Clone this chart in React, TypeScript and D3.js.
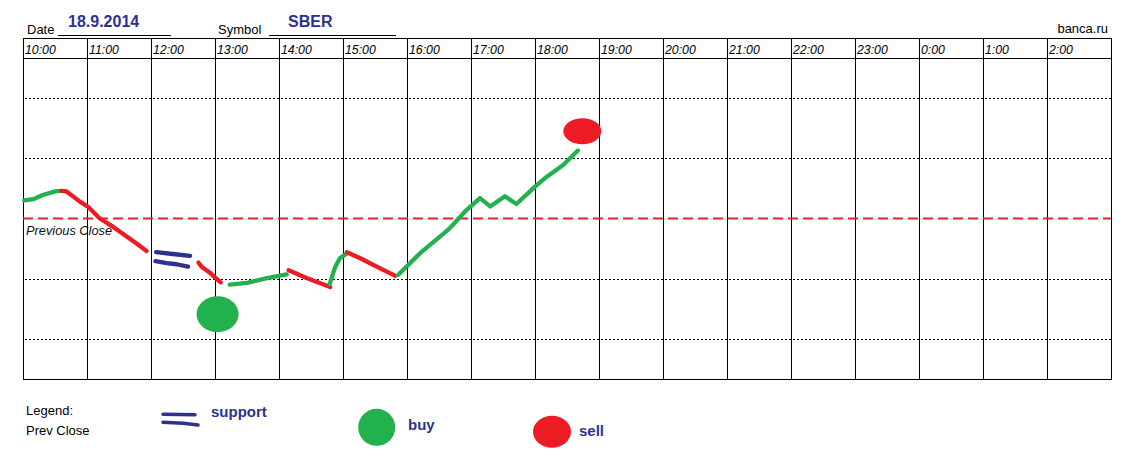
import React from "react";
import * as d3 from "d3";

// hours (from 10:00) vs. level relative to previous close (1 unit = one grid row)
const hourLabels = ["10:00","11:00","12:00","13:00","14:00","15:00","16:00","17:00","18:00","19:00","20:00","21:00","22:00","23:00","0:00","1:00","2:00"];
const gridLevels = [2, 1, -1, -2];
const prevClose = 0;

const greenSeg1: [number, number][] = [[0.02,0.30],[0.16,0.32],[0.31,0.39],[0.50,0.45],[0.58,0.46]];
const redSeg1: [number, number][] = [[0.60,0.46],[0.68,0.45],[0.89,0.28],[1.02,0.19],[1.20,0.00],[1.41,-0.14],[1.62,-0.30],[1.78,-0.42],[1.93,-0.54]];
const support1: [number, number][] = [[2.08,-0.56],[2.34,-0.59],[2.61,-0.62]];
const support2: [number, number][] = [[2.07,-0.71],[2.25,-0.74],[2.40,-0.76],[2.58,-0.80]];
const redSeg2: [number, number][] = [[2.74,-0.73],[2.79,-0.80],[2.92,-0.90],[3.00,-0.98],[3.09,-1.06]];
const greenSeg2: [number, number][] = [[3.23,-1.10],[3.50,-1.07],[3.81,-0.99],[4.12,-0.93]];
const redSeg3: [number, number][] = [[4.15,-0.86],[4.43,-0.99],[4.80,-1.14]];
const greenSeg3: [number, number][] = [[4.79,-1.09],[4.88,-0.80],[4.95,-0.66],[5.06,-0.58]];
const redSeg4: [number, number][] = [[5.06,-0.56],[5.27,-0.66],[5.58,-0.83],[5.81,-0.95]];
const greenSeg4: [number, number][] = [[5.86,-0.94],[6.20,-0.58],[6.57,-0.25],[6.67,-0.16],[6.93,0.14],[7.14,0.34],[7.30,0.20],[7.53,0.37],[7.71,0.24],[8.00,0.53],[8.18,0.69],[8.44,0.89],[8.67,1.13]];

const buySignals: [number, number][] = [[3.04,-1.59]];
const sellSignals: [number, number][] = [[8.74,1.45]];

const GREEN = "#22b14c";
const RED = "#ed1c24";
const BLUE = "#2e3192";

export default function App() {
  const left = 23, right = 1111, top = 38, headerBottom = 58, bottom = 379;
  const x = d3.scaleLinear().domain([0, hourLabels.length]).range([left, right]);
  const y = d3.scaleLinear().domain([-8 / 3, 8 / 3]).range([bottom, headerBottom]);
  const line = d3.line<[number, number]>().x(d => x(d[0])).y(d => y(d[1]));

  const segs: { d: [number, number][]; c: string }[] = [
    { d: greenSeg1, c: GREEN }, { d: redSeg1, c: RED },
    { d: support1, c: BLUE }, { d: support2, c: BLUE },
    { d: redSeg2, c: RED }, { d: greenSeg2, c: GREEN },
    { d: redSeg3, c: RED }, { d: greenSeg3, c: GREEN },
    { d: redSeg4, c: RED }, { d: greenSeg4, c: GREEN },
  ];

  const sans = "'Liberation Sans', Arial, sans-serif";

  return (
    <svg width={1140} height={476} style={{ position: "absolute", left: 0, top: 0, background: "#fff" }} fontFamily={sans}>
      <rect x={0} y={0} width={1140} height={476} fill="#fff" />
      {/* header */}
      <text x={27} y={34} fontSize={13} fill="#000">Date</text>
      <line x1={58} x2={171} y1={35.5} y2={35.5} stroke="#000" strokeWidth={1} />
      <text x={68} y={27} fontSize={16} fontWeight="bold" fill={BLUE}>18.9.2014</text>
      <text x={218} y={34} fontSize={13} fill="#000">Symbol</text>
      <line x1={269} x2={396} y1={35.5} y2={35.5} stroke="#000" strokeWidth={1} />
      <text x={288} y={27} fontSize={16} fontWeight="bold" fill={BLUE}>SBER</text>
      <text x={1108} y={33} fontSize={13} textAnchor="end" fill="#000">banca.ru</text>

      {/* grid */}
      {gridLevels.map(g => (
        <line key={g} x1={left + 2} x2={right} y1={Math.round(y(g)) + 0.5} y2={Math.round(y(g)) + 0.5} stroke="#000" strokeWidth={1} strokeDasharray="2,2" />
      ))}
      {hourLabels.map((h, i) => (
        <g key={h}>
          {i > 0 && <line x1={Math.round(x(i)) + 0.5} x2={Math.round(x(i)) + 0.5} y1={top} y2={bottom} stroke="#000" strokeWidth={1} />}
          <text x={x(i) + 2} y={54} fontSize={12.3} fontStyle="italic" fill="#000">{h}</text>
        </g>
      ))}
      <line x1={left} x2={right} y1={headerBottom + 0.5} y2={headerBottom + 0.5} stroke="#000" strokeWidth={1} />
      <rect x={left + 0.5} y={top + 0.5} width={right - left} height={bottom - top} fill="none" stroke="#000" strokeWidth={1} />

      {/* previous close */}
      <line x1={left} x2={right} y1={y(prevClose)} y2={y(prevClose)} stroke="#e4232a" strokeWidth={2} strokeDasharray="10,5" />
      <text x={26} y={235} fontSize={12.8} fontStyle="italic" fill="#111">Previous Close</text>

      {/* price segments */}
      {segs.map((s, i) => (
        <path key={i} d={line(s.d) || ""} fill="none" stroke={s.c} strokeWidth={4.3} strokeLinecap="round" strokeLinejoin="round" />
      ))}

      {buySignals.map((p, i) => (
        <ellipse key={"b" + i} cx={x(p[0])} cy={y(p[1])} rx={21} ry={18} fill={GREEN} />
      ))}
      {sellSignals.map((p, i) => (
        <ellipse key={"s" + i} cx={x(p[0])} cy={y(p[1])} rx={19} ry={13} fill={RED} />
      ))}

      {/* legend */}
      <text x={26} y={415} fontSize={13} fill="#000">Legend:</text>
      <text x={26} y={435} fontSize={13} fill="#000">Prev Close</text>
      <path d="M163,414.3 L195,414.7" stroke={BLUE} strokeWidth={3.5} strokeLinecap="round" fill="none" />
      <path d="M163,422.3 L183,423.3 L198,425" stroke={BLUE} strokeWidth={3.5} strokeLinecap="round" fill="none" />
      <text x={211} y={417} fontSize={15} fontWeight="bold" fill={BLUE}>support</text>
      <ellipse cx={376.7} cy={427.3} rx={18.5} ry={18.5} fill={GREEN} />
      <text x={408} y={430} fontSize={15} fontWeight="bold" fill={BLUE}>buy</text>
      <ellipse cx={552} cy={431.7} rx={19} ry={16} fill={RED} />
      <text x={579} y={436} fontSize={15} fontWeight="bold" fill={BLUE}>sell</text>
    </svg>
  );
}
